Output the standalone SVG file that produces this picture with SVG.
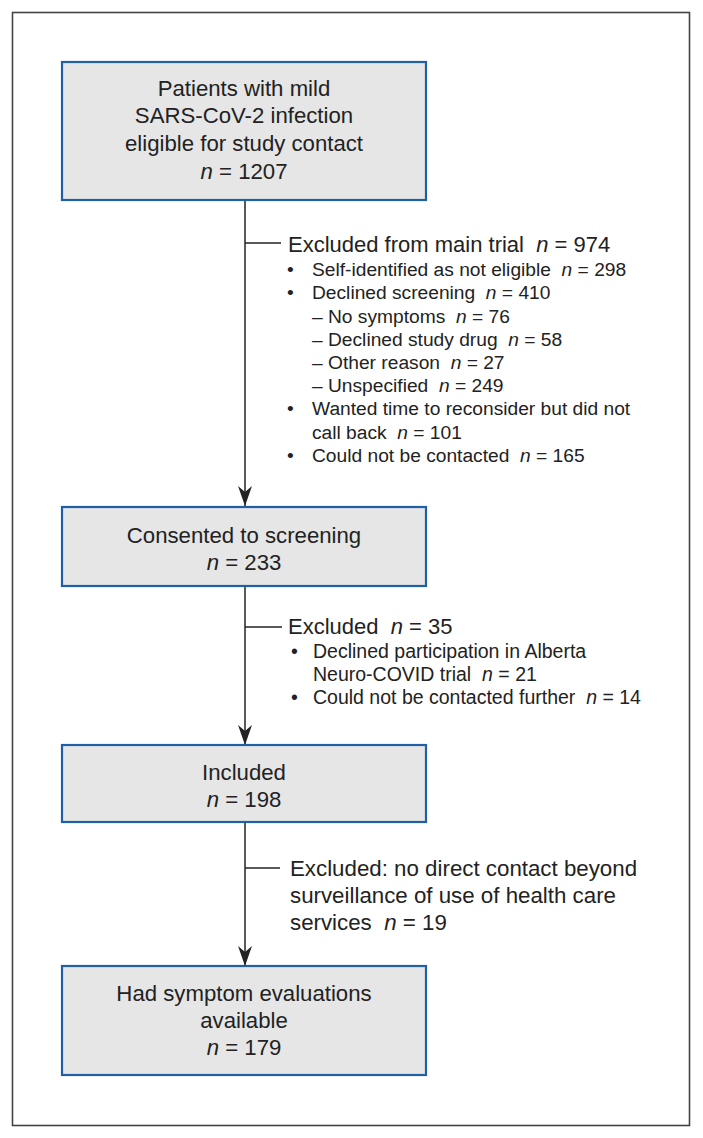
<svg xmlns="http://www.w3.org/2000/svg" width="703" height="1138" viewBox="0 0 703 1138">
<style>
text{font-family:"Liberation Sans",Arial,Helvetica,sans-serif;fill:#222;white-space:pre}
.box{fill:#e6e6e6;stroke:#1f5fa6;stroke-width:2.2}
.bt{font-size:22.2px;text-anchor:middle}
.h{font-size:22px}
.h3{font-size:22.3px}
.b1{font-size:19.2px}
.b2{font-size:19.5px}
.i{font-style:italic}
.ln{stroke:#222;stroke-width:1.5;fill:none}
</style>
<defs>
<marker id="ah" viewBox="0 0 20 14" refX="20" refY="7" markerWidth="20" markerHeight="14" markerUnits="userSpaceOnUse" orient="auto">
<path d="M20,7 L0,0 L6,7 L0,14 Z" fill="#222"/>
</marker>
</defs>
<rect x="12.5" y="12.5" width="677" height="1113" fill="#fff" stroke="#444" stroke-width="1.6"/>

<g id="connectors">
<line class="ln" x1="245" y1="200" x2="245" y2="506" marker-end="url(#ah)"/>
<line class="ln" x1="245" y1="586" x2="245" y2="745" marker-end="url(#ah)"/>
<line class="ln" x1="245" y1="822" x2="245" y2="966" marker-end="url(#ah)"/>
<line class="ln" x1="245" y1="243" x2="281" y2="243"/>
<line class="ln" x1="245" y1="627" x2="282" y2="627"/>
<line class="ln" x1="245" y1="868" x2="280" y2="868"/>
</g>

<g id="node1">
<rect class="box" x="62" y="62" width="364" height="138"/>
<text class="bt" x="244" y="96">Patients with mild</text>
<text class="bt" x="244" y="123">SARS-CoV-2 infection</text>
<text class="bt" x="244" y="151">eligible for study contact</text>
<text class="bt" x="244" y="179"><tspan class="i">n</tspan> = 1207</text>
</g>

<g id="excl1">
<text class="h" x="288" y="252">Excluded from main trial  <tspan class="i">n</tspan> = 974</text>
<g class="b1">
<text x="287" y="276">•</text><text x="312" y="276">Self-identified as not eligible  <tspan class="i">n</tspan> = 298</text>
<text x="287" y="299">•</text><text x="312" y="299">Declined screening  <tspan class="i">n</tspan> = 410</text>
<text x="312" y="322.5">– No symptoms  <tspan class="i">n</tspan> = 76</text>
<text x="312" y="345.5">– Declined study drug  <tspan class="i">n</tspan> = 58</text>
<text x="312" y="369">– Other reason  <tspan class="i">n</tspan> = 27</text>
<text x="312" y="392">– Unspecified  <tspan class="i">n</tspan> = 249</text>
<text x="287" y="415">•</text><text x="312" y="415">Wanted time to reconsider but did not</text>
<text x="312" y="438.5">call back  <tspan class="i">n</tspan> = 101</text>
<text x="287" y="462">•</text><text x="312" y="462">Could not be contacted  <tspan class="i">n</tspan> = 165</text>
</g>
</g>

<g id="node2">
<rect class="box" x="62" y="507" width="364" height="79"/>
<text class="bt" x="244" y="543">Consented to screening</text>
<text class="bt" x="244" y="570"><tspan class="i">n</tspan> = 233</text>
</g>

<g id="excl2">
<text class="h" x="288" y="634">Excluded  <tspan class="i">n</tspan> = 35</text>
<g class="b2">
<text x="291" y="658">•</text><text x="313" y="658">Declined participation in Alberta</text>
<text x="313" y="681">Neuro-COVID trial  <tspan class="i">n</tspan> = 21</text>
<text x="291" y="704">•</text><text x="313" y="704">Could not be contacted further  <tspan class="i">n</tspan> = 14</text>
</g>
</g>

<g id="node3">
<rect class="box" x="62" y="745" width="364" height="77"/>
<text class="bt" x="244" y="780">Included</text>
<text class="bt" x="244" y="807"><tspan class="i">n</tspan> = 198</text>
</g>

<g id="excl3">
<text class="h3" x="290" y="876">Excluded: no direct contact beyond</text>
<text class="h3" x="290" y="903">surveillance of use of health care</text>
<text class="h3" x="290" y="930">services  <tspan class="i">n</tspan> = 19</text>
</g>

<g id="node4">
<rect class="box" x="62" y="966" width="364" height="109"/>
<text class="bt" x="244" y="1001">Had symptom evaluations</text>
<text class="bt" x="244" y="1028">available</text>
<text class="bt" x="244" y="1055"><tspan class="i">n</tspan> = 179</text>
</g>
</svg>
